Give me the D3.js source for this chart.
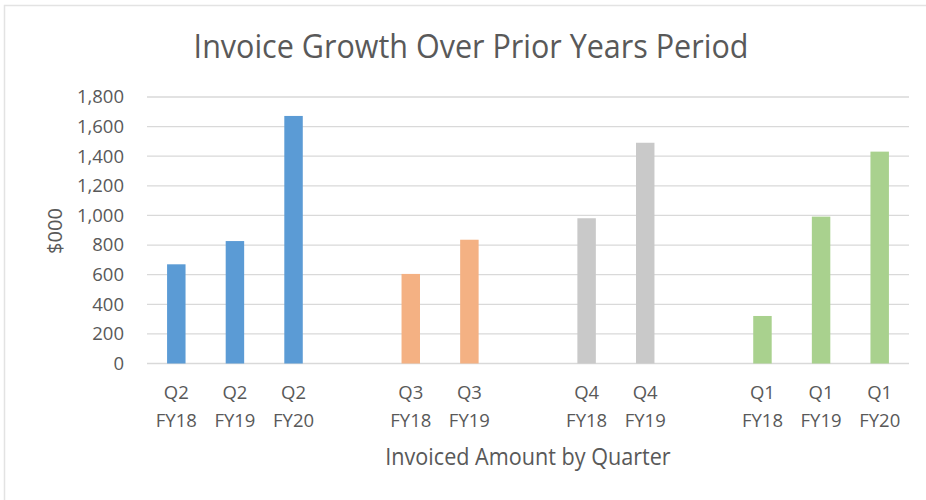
<!DOCTYPE html>
<html>
<head>
<meta charset="utf-8">
<script src="https://cdn.jsdelivr.net/npm/d3@7"></script>
<style>
  html, body { margin: 0; padding: 0; background: #fff; }
  svg text { font-family: "Open Sans", "Noto Sans", sans-serif; fill: #595959; }
</style>
</head>
<body>
<svg id="chart" width="926" height="500"></svg>
<script>
const quarters = ["Q2", "Q2", "Q2", "", "Q3", "Q3", "", "Q4", "Q4", "", "Q1", "Q1", "Q1"];
const years    = ["FY18", "FY19", "FY20", "", "FY18", "FY19", "", "FY18", "FY19", "", "FY18", "FY19", "FY20"];
const values   = [670, 827, 1672, null, 605, 836, null, 981, 1491, null, 321, 992, 1431];
const groups   = ["Q2", "Q2", "Q2", null, "Q3", "Q3", null, "Q4", "Q4", null, "Q1", "Q1", "Q1"];
const groupColors = { Q2: "#5b9bd5", Q3: "#f4b183", Q4: "#c9c9c9", Q1: "#a9d18e" };
const yTicks = [0, 200, 400, 600, 800, 1000, 1200, 1400, 1600, 1800];

const svg = d3.select("#chart");
const W = 926, H = 500;
const m = { left: 147, right: 17, top: 97, bottom: 136.5 };

// outer border
svg.append("rect").attr("x", 4.5).attr("y", 5.5).attr("width", W + 10).attr("height", H + 10)
  .attr("fill", "none").attr("stroke", "#e3e3e3").attr("stroke-width", 1.5);

const idx = d3.range(values.length);
const x = d3.scaleBand().domain(idx).range([m.left, W - m.right]).paddingInner(0.685).paddingOuter(0.3425);
const y = d3.scaleLinear().domain([0, 1800]).range([H - m.bottom, m.top]);

// gridlines
svg.append("g").selectAll("line").data(yTicks).join("line")
  .attr("x1", m.left).attr("x2", W - m.right)
  .attr("y1", d => y(d)).attr("y2", d => y(d))
  .attr("stroke", "#d9d9d9").attr("stroke-width", 1.3);

// y axis labels
const yAxis = d3.axisLeft(y).tickValues(yTicks).tickFormat(d3.format(",")).tickSize(0).tickPadding(23);
const gy = svg.append("g").attr("transform", `translate(${m.left},0)`).call(yAxis);
gy.select(".domain").remove();
gy.selectAll("text").attr("font-size", 18.5).style("font-family", '"Open Sans", sans-serif').attr("fill", "#595959");

// bars
svg.append("g").selectAll("rect").data(idx.filter(i => values[i] != null)).join("rect")
  .attr("x", i => x(i)).attr("width", x.bandwidth())
  .attr("y", i => y(values[i])).attr("height", i => y(0) - y(values[i]))
  .attr("fill", i => groupColors[groups[i]]);

// x labels
const xl = svg.append("g").selectAll("text").data(idx.filter(i => quarters[i])).join("text")
  .attr("x", i => x(i) + x.bandwidth() / 2).attr("text-anchor", "middle").attr("font-size", 18.5);
xl.append("tspan").attr("x", i => x(i) + x.bandwidth() / 2).attr("y", 399).text(i => quarters[i]);
xl.append("tspan").attr("x", i => x(i) + x.bandwidth() / 2).attr("y", 427).text(i => years[i]);

// axis titles
svg.append("text").attr("transform", "translate(528,465) scale(0.9,1)").attr("text-anchor", "middle")
  .attr("font-size", 24).text("Invoiced Amount by Quarter");
svg.append("text").attr("transform", "translate(62,231) rotate(-90)").attr("text-anchor", "middle")
  .attr("font-size", 20).text("$000");

// title
svg.append("text").attr("transform", "translate(471,58) scale(0.925,1)").attr("text-anchor", "middle")
  .attr("font-size", 33).text("Invoice Growth Over Prior Years Period");
</script>
</body>
</html>
